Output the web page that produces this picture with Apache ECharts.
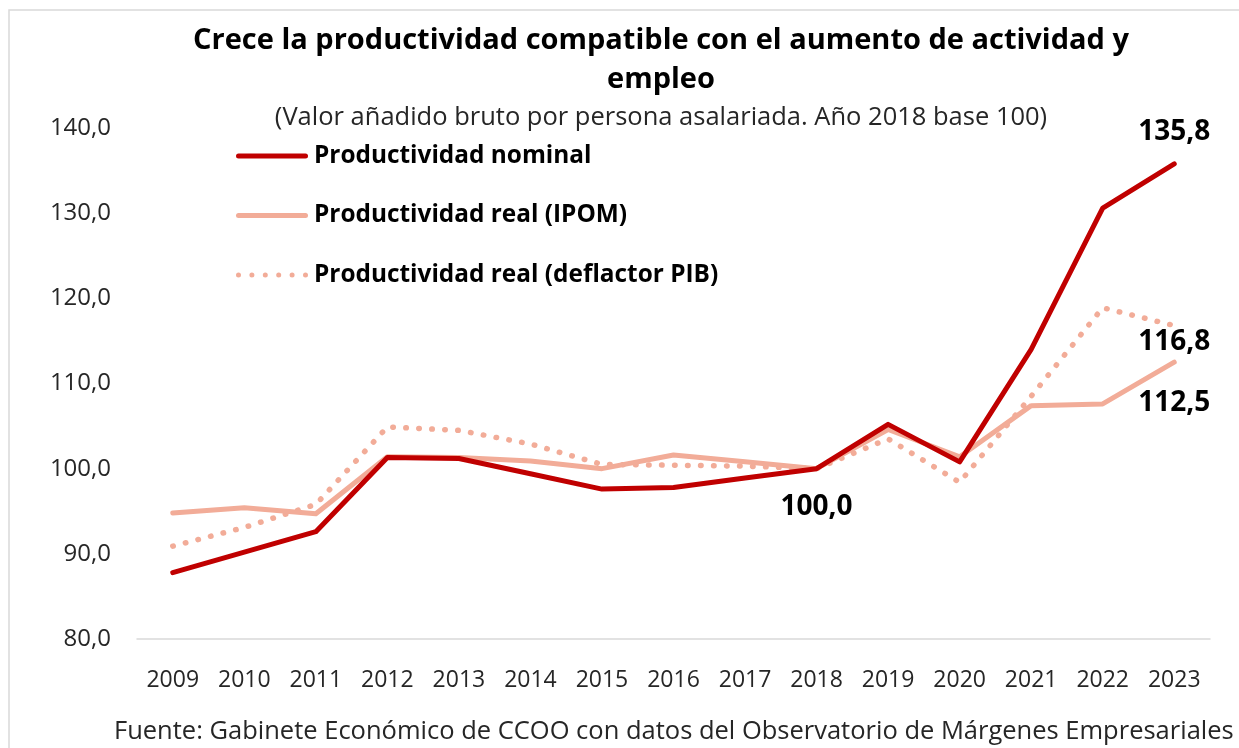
<!DOCTYPE html>
<html>
<head>
<meta charset="utf-8">
<script src="https://cdn.jsdelivr.net/npm/echarts@6/dist/echarts.min.js"></script>
<style>
html,body{margin:0;padding:0;background:#fff;}
#chart{width:1239px;height:748px;}
</style>
</head>
<body>
<div id="chart"></div>
<script>
const years = ['2009','2010','2011','2012','2013','2014','2015','2016','2017','2018','2019','2020','2021','2022','2023'];
const nominal = [87.8, 90.2, 92.6, 101.3, 101.2, 99.4, 97.6, 97.8, 98.9, 100.0, 105.2, 100.8, 114.0, 130.6, 135.8];
const realIPOM = [94.8, 95.4, 94.7, 101.4, 101.3, 100.9, 100.0, 101.6, 100.8, 100.0, 104.6, 101.4, 107.4, 107.6, 112.5];
const realDeflator = [90.9, 93.1, 95.8, 104.9, 104.5, 102.9, 100.5, 100.4, 100.3, 100.0, 103.5, 98.4, 108.5, 118.9, 116.8];
const yTicks = [80, 90, 100, 110, 120, 130, 140];
const seriesNames = ['Productividad nominal', 'Productividad real (IPOM)', 'Productividad real (deflactor PIB)'];

const FONT = 'Open Sans';
const fmt = v => v.toFixed(1).replace('.', ',');
const labelStyle = {fontFamily: FONT, fontWeight: 'bold', fontSize: 28, color: '#000'};

function withLabels(arr, spec) {
  return arr.map((v, i) => {
    if (spec[i]) {
      return {value: v, label: Object.assign({show: true, formatter: p => fmt(p.value)}, labelStyle, spec[i])};
    }
    return v;
  });
}

// legend icons (shape only; size comes from itemWidth/itemHeight)
const solidIcon = 'path://M2.5,0 H69.5 A2.5,2.5 0 0 1 69.5,5 H2.5 A2.5,2.5 0 0 1 2.5,0 Z';
let dots = '';
for (let k = 0; k < 6; k++) {
  const cx = 2.5 + k * 13.4;
  dots += 'M' + (cx - 2.5) + ',2.5 a2.5,2.5 0 1,0 5,0 a2.5,2.5 0 1,0 -5,0 ';
}
const dotIcon = 'path://' + dots;

const chart = echarts.init(document.getElementById('chart'));
chart.setOption({
  backgroundColor: '#fff',
  animation: false,
  title: {
    text: 'Crece la productividad compatible con el aumento de actividad y\nempleo',
    subtext: '(Valor añadido bruto por persona asalariada. Año 2018 base 100)',
    left: 656, textAlign: 'center', top: 16,
    itemGap: 4,
    textStyle: {fontFamily: FONT, fontWeight: 'bold', fontSize: 29, color: '#000', lineHeight: 39},
    subtextStyle: {fontFamily: FONT, fontSize: 25.5, color: '#262626', lineHeight: 30}
  },
  legend: {
    orient: 'vertical', left: 231, top: 134,
    itemWidth: 74, itemHeight: 5, itemGap: 25.5,
    textStyle: {fontFamily: FONT, fontWeight: 'bold', fontSize: 24.4, color: '#000', lineHeight: 34},
    data: [
      {name: seriesNames[0], icon: solidIcon},
      {name: seriesNames[1], icon: solidIcon},
      {name: seriesNames[2], icon: dotIcon}
    ]
  },
  grid: {left: 137, right: 29, top: 128, bottom: 109},
  xAxis: {
    type: 'category', data: years, boundaryGap: true,
    axisLine: {lineStyle: {color: '#D9D9D9', width: 1.5}},
    axisTick: {show: false},
    axisLabel: {fontFamily: FONT, fontSize: 23, color: '#262626', margin: 30, interval: 0}
  },
  yAxis: {
    type: 'value', min: yTicks[0], max: yTicks[yTicks.length - 1], interval: 10,
    splitLine: {show: false}, axisLine: {show: false}, axisTick: {show: false},
    axisLabel: {fontFamily: FONT, fontSize: 24, color: '#262626', margin: 26, formatter: v => fmt(v)}
  },
  graphic: [{
    type: 'rect', shape: {x: 9, y: 10, width: 1300, height: 800},
    style: {fill: 'none', stroke: '#D9D9D9', lineWidth: 1.5}, silent: true, z: -10
  }, {
    type: 'text', left: 114, top: 719,
    style: {text: 'Fuente: Gabinete Económico de CCOO con datos del Observatorio de Márgenes Empresariales',
      fontFamily: FONT, fontSize: 25.5, fill: '#262626'}
  }],
  series: [{
    name: seriesNames[0], type: 'line', symbol: 'circle', symbolSize: 0.1, showSymbol: true, z: 3,
    lineStyle: {color: '#C00000', width: 5, cap: 'round', join: 'round'},
    itemStyle: {color: '#C00000'},
    data: withLabels(nominal, {9: {position: 'bottom', distance: 24}, 14: {position: 'top', distance: 18}})
  }, {
    name: seriesNames[1], type: 'line', symbol: 'circle', symbolSize: 0.1, showSymbol: true, z: 2,
    lineStyle: {color: '#F2AC98', width: 5, cap: 'round', join: 'round'},
    itemStyle: {color: '#F2AC98'},
    data: withLabels(realIPOM, {14: {position: 'bottom', distance: 27}})
  }, {
    name: seriesNames[2], type: 'line', symbol: 'circle', symbolSize: 0.1, showSymbol: true, z: 1,
    lineStyle: {color: '#F2AC98', width: 5.5, type: [0.5, 12.5], cap: 'round', join: 'round'},
    itemStyle: {color: '#F2AC98'},
    data: withLabels(realDeflator, {14: {position: 'bottom', distance: 2}})
  }]
});
</script>
</body>
</html>
